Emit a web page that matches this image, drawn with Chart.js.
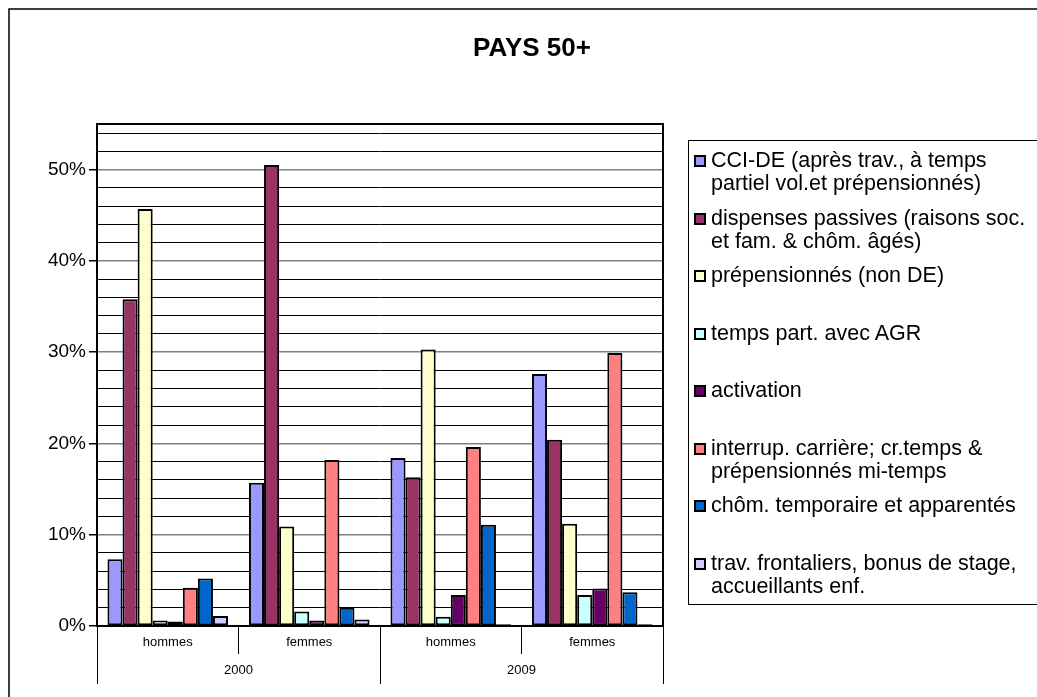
<!DOCTYPE html>
<html>
<head>
<meta charset="utf-8">
<script src="https://cdn.jsdelivr.net/npm/chart.js@4/dist/chart.umd.min.js"></script>
<style>
  html, body { margin: 0; padding: 0; background: #fff; }
  #wrap { position: relative; width: 1037px; height: 697px; overflow: hidden; }
  #chart { position: absolute; left: 0; top: 0; }
  #legend {
    position: absolute; left: 688px; top: 140px; width: 360px; height: 465px;
    border: 1px solid #000; border-right: none; box-sizing: border-box;
    padding-top: 8px;
    font-family: Arial, "Liberation Sans", sans-serif; font-size: 21.5px; line-height: 23px; color: #000;
  }
  .item { display: flex; height: 57.5px; padding-left: 5px; }
  .swatch { flex: none; width: 12px; height: 12px; margin: 6px 5px 0 0; border: 2px solid #000; box-sizing: border-box; }
  .label { white-space: pre-line; }
</style>
</head>
<body>
<div id="wrap">
  <canvas id="chart" width="1037" height="697"></canvas>
  <div id="legend"></div>
</div>
<script>
const FONT = 'Arial, "Liberation Sans", sans-serif';
const TITLE = 'PAYS 50+';

// categories: sex within year
const groups = ['hommes', 'femmes', 'hommes', 'femmes'];
const years = ['2000', '2009'];

// values in %
const cciDe = [7.3, 15.7, 18.4, 27.6];
const dispensesPassives = [35.8, 50.5, 16.3, 20.4];
const prepensionnes = [45.7, 10.9, 30.3, 11.2];
const tempsPartAgr = [0.6, 1.6, 1.0, 3.4];
const activation = [0.5, 0.6, 3.4, 4.1];
const interrupCarriere = [4.2, 18.2, 19.6, 29.9];
const chomTemporaire = [5.2, 2.0, 11.1, 3.7];
const travFrontaliers = [1.1, 0.7, 0.2, 0.2];

const seriesNames = [
  'CCI-DE (après trav., à temps\npartiel vol.et prépensionnés)',
  'dispenses passives (raisons soc.\net fam. & chôm. âgés)',
  'prépensionnés (non DE)',
  'temps part. avec AGR',
  'activation',
  'interrup. carrière; cr.temps &\nprépensionnés mi-temps',
  'chôm. temporaire et apparentés',
  'trav. frontaliers, bonus de stage,\naccueillants enf.'
];
const seriesValues = [cciDe, dispensesPassives, prepensionnes, tempsPartAgr,
  activation, interrupCarriere, chomTemporaire, travFrontaliers];
const seriesColors = ['#9999FF', '#993366', '#FFFFCC', '#CCFFFF',
  '#660066', '#FF8080', '#0066CC', '#CCCCFF'];

// y gridlines every 2 %, labelled every 10 %
const yGridValues = [0, 2, 4, 6, 8, 10, 12, 14, 16, 18, 20, 22, 24, 26, 28,
  30, 32, 34, 36, 38, 40, 42, 44, 46, 48, 50, 52, 54];

const isMajor = v => v % 10 === 0;

// outer frame, title and plot border
const framePlugin = {
  id: 'frame',
  beforeDraw(chart) {
    const ctx = chart.ctx;
    ctx.save();
    ctx.fillStyle = '#fff';
    ctx.fillRect(0, 0, chart.width, chart.height);
    ctx.strokeStyle = '#000';
    ctx.lineWidth = 1.5;
    ctx.beginPath();
    ctx.moveTo(9, chart.height);
    ctx.lineTo(9, 9);
    ctx.lineTo(chart.width, 9);
    ctx.stroke();
    ctx.fillStyle = '#000';
    ctx.font = 'bold 26px ' + FONT;
    ctx.textAlign = 'center';
    ctx.textBaseline = 'middle';
    ctx.fillText(TITLE, 532, 49);
    ctx.restore();
  },
  afterDraw(chart) {
    const { left, top, right, bottom } = chart.chartArea;
    const ctx = chart.ctx;
    ctx.save();
    ctx.strokeStyle = '#000';
    ctx.lineWidth = 2;
    ctx.beginPath();
    ctx.moveTo(left, top);
    ctx.lineTo(right, top);
    ctx.lineTo(right, bottom);
    ctx.stroke();
    ctx.restore();
  }
};

const chart = new Chart(document.getElementById('chart').getContext('2d'), {
  type: 'bar',
  data: {
    labels: groups,
    datasets: seriesNames.map((name, i) => ({
      label: name,
      data: seriesValues[i],
      backgroundColor: seriesColors[i],
      borderColor: '#000',
      borderWidth: 2,
      borderSkipped: false,
      categoryPercentage: 0.852,
      barPercentage: 1
    }))
  },
  options: {
    responsive: false,
    animation: false,
    layout: { padding: { left: 37, right: 374, top: 124, bottom: 13 } },
    plugins: {
      legend: { display: false },
      tooltip: { enabled: false },
      title: { display: false }
    },
    scales: {
      x: {
        type: 'category',
        axis: 'x',
        position: 'bottom',
        offset: true,
        grid: { offset: true, drawOnChartArea: false, color: '#000', lineWidth: 1, tickLength: 28 },
        border: { color: '#000', width: 2 },
        ticks: { color: '#000', font: { family: FONT, size: 13 }, padding: -19, maxRotation: 0, autoSkip: false },
        afterFit(s) { s.height = 28; }
      },
      x2: {
        type: 'category',
        axis: 'x',
        position: 'bottom',
        labels: years,
        offset: true,
        grid: { offset: true, drawOnChartArea: false, color: '#000', lineWidth: 1, tickLength: 30 },
        border: { display: false },
        ticks: { color: '#000', font: { family: FONT, size: 13 }, padding: -21, maxRotation: 0, autoSkip: false },
        afterFit(s) { s.height = 30; }
      },
      y: {
        min: 0,
        max: 55,
        afterBuildTicks(s) { s.ticks = yGridValues.map(v => ({ value: v })); },
        afterFit(s) { s.width = 60; },
        border: { color: '#000', width: 2 },
        grid: {
          color: c => isMajor(c.tick.value) ? '#808080' : '#000',
          lineWidth: c => isMajor(c.tick.value) ? 1.5 : 1,
          tickLength: 8,
          tickColor: c => isMajor(c.tick.value) ? '#000' : 'rgba(0,0,0,0)'
        },
        ticks: {
          autoSkip: false,
          padding: 3,
          color: '#000',
          font: { family: FONT, size: 19 },
          callback: v => isMajor(v) ? v + '%' : ''
        }
      }
    }
  },
  plugins: [framePlugin]
});

// legend with wrapped labels
const legendEl = document.getElementById('legend');
chart.data.datasets.forEach(ds => {
  const item = document.createElement('div');
  item.className = 'item';
  const sw = document.createElement('span');
  sw.className = 'swatch';
  sw.style.background = ds.backgroundColor;
  const txt = document.createElement('span');
  txt.className = 'label';
  txt.textContent = ds.label;
  item.appendChild(sw);
  item.appendChild(txt);
  legendEl.appendChild(item);
});
</script>
</body>
</html>
